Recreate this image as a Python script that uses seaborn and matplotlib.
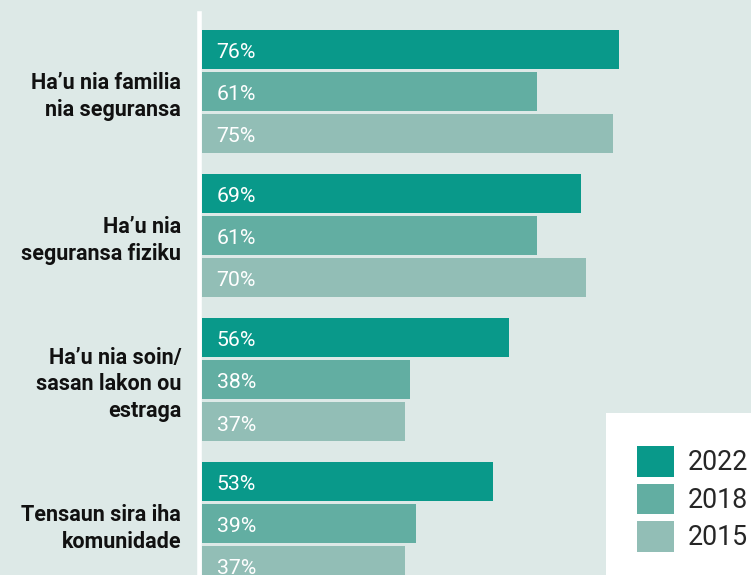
import numpy as np
import pandas as pd
import seaborn as sns
import matplotlib.pyplot as plt
from matplotlib.patches import Rectangle

sns.set_theme(style="white")
plt.rcParams['font.family'] = ['Roboto', 'DejaVu Sans']

categories = [
    "Ha’u nia familia\nnia seguransa",
    "Ha’u nia\nseguransa fiziku",
    "Ha’u nia soin/\nsasan lakon ou\nestraga",
    "Tensaun sira iha\nkomunidade",
]
years = ["2022", "2018", "2015"]
v2022 = [76, 69, 56, 53]
v2018 = [61, 61, 38, 39]
v2015 = [75, 70, 37, 37]
colors = ["#09998A", "#62AEA2", "#92BEB6"]
bg = "#DDE9E7"

rows = []
for yr, vals in zip(years, [v2022, v2018, v2015]):
    for c, v in zip(categories, vals):
        rows.append({"category": c, "year": yr, "value": v})
df = pd.DataFrame(rows)

W, H = 751, 575
fig = plt.figure(figsize=(W / 100, H / 100), dpi=100, facecolor=bg)
px = 5.49  # pixels per percent
ax_left = 199.3
ax = fig.add_axes([ax_left / W, 0, (W - ax_left) / W, 1])
ax.set_facecolor(bg)

sns.barplot(data=df, x="value", y="category", hue="year", hue_order=years,
            order=categories, palette=colors, saturation=1, orient="h",
            width=0.875, gap=0.0714, ax=ax, linewidth=0)

x0 = -(201.7 - ax_left) / px
ax.set_xlim(x0, x0 + (W - ax_left) / px)
ax.set_ylim((575 - 91.5) / 144, -91.5 / 144)

# bar value labels
for cont in ax.containers:
    for bar in cont:
        w = bar.get_width()
        ax.annotate(f"{w:.0f}%", xy=(0, bar.get_y() + bar.get_height() / 2),
                    xytext=(15, -3.5), textcoords="offset pixels",
                    ha="left", va="center", color="white", fontsize=15.3)

for s in ["top", "right", "bottom"]:
    ax.spines[s].set_visible(False)
ax.spines["left"].set_color("white")
ax.spines["left"].set_linewidth(3.3)
ax.spines["left"].set_bounds(3.5, -91.5 / 144 + 12.7 / 144)

ax.set_xlabel("")
ax.set_ylabel("")
ax.set_xticks([])
ax.tick_params(axis="y", length=0, pad=13)
for lab in ax.get_yticklabels():
    lab.set_fontfamily(["Roboto", "DejaVu Sans"])
    lab.set_fontweight("bold")
    lab.set_fontsize(15.5)
    lab.set_color("#111111")
    lab.set_horizontalalignment("right")
    lab.set_multialignment("right")
    lab.set_linespacing(1.28)

# white legend panel
fig.patches.append(Rectangle((606 / W, 0), (W - 606) / W, (575 - 413) / H,
                             transform=fig.transFigure, facecolor="white",
                             edgecolor="none", zorder=5))
handles, labels = ax.get_legend_handles_labels()
leg = fig.legend(handles, labels, loc="upper left",
                 bbox_to_anchor=(637 / W, 1 - 446 / H), frameon=False,
                 fontsize=19.3, handlelength=1.38, handleheight=1.38,
                 labelspacing=0.26, handletextpad=0.5, borderpad=0,
                 borderaxespad=0)
leg.set_zorder(6)
if ax.get_legend() is not None:
    ax.get_legend().remove()

fig.savefig("out.png", dpi=100, facecolor=bg)
